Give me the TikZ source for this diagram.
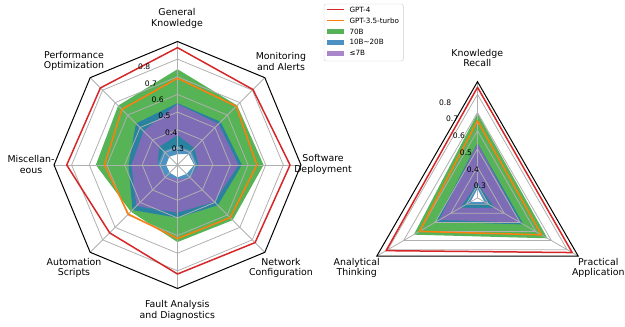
\documentclass[tikz,border=0pt]{standalone}
\usepackage{fontspec}
\setmainfont{DejaVu Sans}
\usetikzlibrary{positioning}

\definecolor{tabred}{HTML}{D62728}
\definecolor{taborange}{HTML}{FF7F0E}
\definecolor{tabgreen}{HTML}{2CA02C}
\definecolor{tabblue}{HTML}{1F77B4}
\definecolor{tabpurple}{HTML}{9467BD}
\definecolor{gridgray}{HTML}{B0B0B0}
\definecolor{legendgray}{HTML}{CCCCCC}

\begin{document}
\begin{tikzpicture}[x=1pt,y=1pt,
    declare function={lr(\s)=(\s-0.2)*176.4; rr(\s)=(\s-0.23)*181.6;}]
    \tikzstyle{gridline}=[draw=gridgray,line width=0.8pt]
    \tikzstyle{frameline}=[draw=black,line width=1pt,line join=miter]
    \tikzstyle{gptfour}=[draw=tabred,line width=1.5pt,line join=round]
    \tikzstyle{gptturbo}=[draw=taborange,line width=1.5pt,line join=round]
    \tikzstyle{band}=[even odd rule,fill opacity=0.8]
    \tikzstyle{axislabel}=[align=center,font=\fontsize{9.4}{10.7}\selectfont,inner sep=0pt]
    \tikzstyle{ticklabel}=[anchor=west,font=\fontsize{7.6}{9}\selectfont,inner sep=1pt]
    \tikzstyle{legendtext}=[anchor=west,font=\fontsize{7.2}{8.6}\selectfont,inner sep=0pt]
    \useasboundingbox (0,0) rectangle (625,327);

    % left radar, eight categories
    \begin{scope}[shift={(177.5,162)}]
      \coordinate (lc) at (0,0);
      \fill[tabgreen,band] (90:{lr(0.743)}) \foreach \a/\v in {45/0.678,0/0.688,-45/0.642,-90/0.637,-135/0.574,180/0.663,135/0.676} {-- (\a:{lr(\v)})} -- cycle
        (90:{lr(0.308)}) \foreach \a/\v in {45/0.313,0/0.313,-45/0.302,-90/0.296,-135/0.302,180/0.313,135/0.313} {-- (\a:{lr(\v)})} -- cycle;
      \fill[tabblue,band] (90:{lr(0.551)}) \foreach \a/\v in {45/0.546,0/0.565,-45/0.523,-90/0.499,-135/0.561,180/0.478,135/0.533} {-- (\a:{lr(\v)})} -- cycle
        (90:{lr(0.262)}) \foreach \a/\v in {45/0.288,0/0.295,-45/0.272,-90/0.270,-135/0.262,180/0.265,135/0.266} {-- (\a:{lr(\v)})} -- cycle;
      \fill[tabpurple,band] (90:{lr(0.546)}) \foreach \a/\v in {45/0.529,0/0.546,-45/0.495,-90/0.470,-135/0.529,180/0.461,135/0.472} {-- (\a:{lr(\v)})} -- cycle
        (90:{lr(0.370)}) \foreach \a/\v in {45/0.336,0/0.319,-45/0.302,-90/0.279,-135/0.291,180/0.313,135/0.347} {-- (\a:{lr(\v)})} -- cycle;
      \foreach \a [count=\k] in {90,45,0,-45,-90,-135,180,135} {
        \coordinate (lo\k) at (\a:{lr(0.9)});
        \draw[gridline] (lc) -- (lo\k);
      }
      \foreach \t in {0.3,0.4,0.5,0.6,0.7,0.8}
        \draw[gridline] (90:{lr(\t)}) \foreach \a in {45,0,-45,-90,-135,180,135} {-- (\a:{lr(\t)})} -- cycle;
      \draw[gptturbo] (90:{lr(0.692)}) \foreach \a/\v in {45/0.671,0/0.650,-45/0.622,-90/0.617,-135/0.594,180/0.614,135/0.646} {-- (\a:{lr(\v)})} -- cycle;
      \draw[gptfour] (90:{lr(0.865)}) \foreach \a/\v in {45/0.805,0/0.838,-45/0.822,-90/0.818,-135/0.744,180/0.828,135/0.818} {-- (\a:{lr(\v)})} -- cycle;
      \draw[frameline] (lo1) -- (lo2) -- (lo3) -- (lo4) -- (lo5) -- (lo6) -- (lo7) -- (lo8) -- cycle;
      \foreach \t [count=\k] in {0.3,0.4,0.5,0.6,0.7,0.8}
        \node[ticklabel] (ltick\k) at (112.5:{lr(\t)}) {\t};
    \end{scope}

    % right radar, three abilities
    \begin{scope}[shift={(477.5,129.1)}]
      \coordinate (rc) at (0,0);
      \fill[tabgreen,band] (90:{rr(0.696)}) -- (-30:{rr(0.675)}) -- (210:{rr(0.635)}) -- cycle
        (90:{rr(0.300)}) -- (-30:{rr(0.295)}) -- (210:{rr(0.292)}) -- cycle;
      \fill[tabblue,band] (90:{rr(0.533)}) -- (-30:{rr(0.522)}) -- (210:{rr(0.493)}) -- cycle
        (90:{rr(0.280)}) -- (-30:{rr(0.274)}) -- (210:{rr(0.274)}) -- cycle;
      \fill[tabpurple,band] (90:{rr(0.531)}) -- (-30:{rr(0.500)}) -- (210:{rr(0.472)}) -- cycle
        (90:{rr(0.313)}) -- (-30:{rr(0.340)}) -- (210:{rr(0.340)}) -- cycle;
      \foreach \a [count=\k] in {90,-30,210} {
        \coordinate (ro\k) at (\a:{rr(0.87)});
        \draw[gridline] (rc) -- (ro\k);
      }
      \foreach \t in {0.3,0.4,0.5,0.6,0.7,0.8}
        \draw[gridline] (90:{rr(\t)}) -- (-30:{rr(\t)}) -- (210:{rr(\t)}) -- cycle;
      \draw[gptturbo] (90:{rr(0.655)}) -- (-30:{rr(0.637)}) -- (210:{rr(0.599)}) -- cycle;
      \draw[gptfour] (90:{rr(0.839)}) -- (-30:{rr(0.832)}) -- (210:{rr(0.811)}) -- cycle;
      \draw[frameline] (ro1) -- (ro2) -- (ro3) -- cycle;
      \foreach \t [count=\k] in {0.3,0.4,0.5,0.6,0.7,0.8}
        \node[ticklabel] (rtick\k) at (112.5:{rr(\t)}) {\t};
    \end{scope}

    % category labels
    \node[axislabel] (gk) at (177,308.3) {General\\Knowledge};
    \node[axislabel] (ma) at (281,265.8) {Monitoring\\and Alerts};
    \node[axislabel] (sd) at (323,162.5) {Software\\Deployment};
    \node[axislabel] (nc) at (281,59.2) {Network\\Configuration};
    \node[axislabel] (fad) at (177.3,16.7) {Fault Analysis\\and Diagnostics};
    \node[axislabel] (as) at (74,59.2) {Automation\\Scripts};
    \node[axislabel] (misc) at (31,162.3) {Miscellan-\\eous};
    \node[axislabel] (po) at (74,266) {Performance\\Optimization};
    \node[axislabel] (kr) at (477.3,269) {Knowledge\\Recall};
    \node[axislabel] (at) at (356.7,59) {Analytical\\Thinking};
    \node[axislabel] (pa) at (598.3,59) {Practical\\Application};

    % legend
    \draw[draw=legendgray,fill=white,fill opacity=0.8,rounded corners=2pt] (324,266) rectangle (403.3,323);
    \draw[tabred,line width=1.8pt] (327.3,317.4) -- (344,317.4);
    \draw[taborange,line width=1.8pt] (327.3,306.5) -- (344,306.5);
    \foreach \c/\y in {tabgreen/295.6,tabblue/284.7,tabpurple/273.8}
      \fill[\c,fill opacity=0.8] (327.3,\y-2.6) rectangle (344,\y+2.6);
    \node[legendtext] (leg1) at (349.3,317.4) {GPT-4};
    \node[legendtext] (leg2) at (349.3,306.5) {GPT-3.5-turbo};
    \node[legendtext] (leg3) at (349.3,295.6) {70B};
    \node[legendtext] (leg4) at (349.3,284.7) {10B\textasciitilde20B};
    \node[legendtext] (leg5) at (349.3,273.8) {≤7B};
\end{tikzpicture}
\end{document}
